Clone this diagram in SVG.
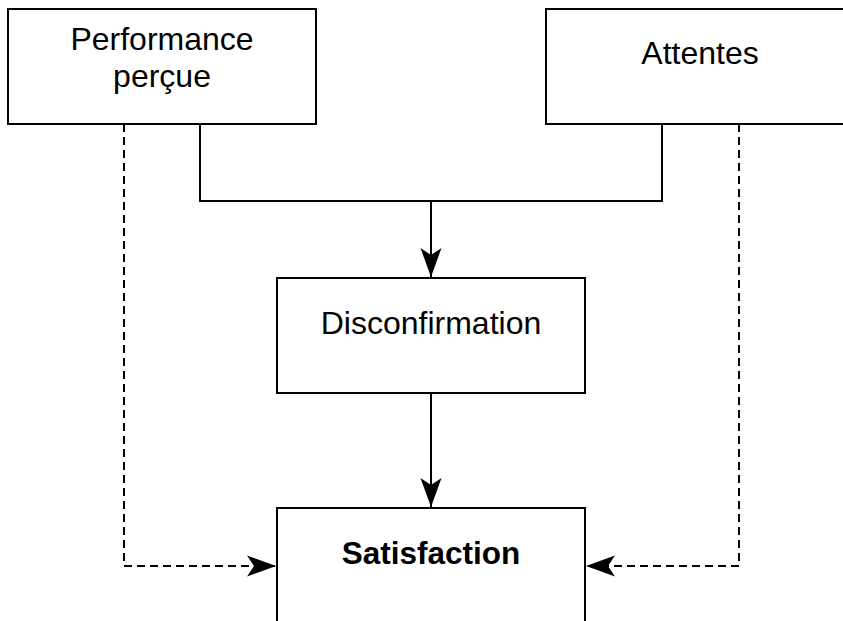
<svg xmlns="http://www.w3.org/2000/svg" width="843" height="621" viewBox="0 0 843 621">
<style>
.box{fill:#fff;stroke:#000;stroke-width:2}
.t{font-family:"Liberation Sans",Arial,sans-serif;font-size:32px;fill:#000;text-anchor:middle}
.b{font-weight:bold;font-size:31.5px}
.c{fill:none;stroke:#000;stroke-width:2}
.d{stroke-dasharray:8 5}
</style>
<defs>
<marker id="ah" markerUnits="userSpaceOnUse" markerWidth="32" markerHeight="24" viewBox="-30 -12 32 24" refX="0" refY="0" orient="auto">
<path d="M0,0 L-29,-10.5 L-22,0 L-29,10.5 Z" fill="#000"/>
</marker>
</defs>
<rect width="843" height="621" fill="#fff"/>
<g id="connectors">
<path class="c" d="M200,124 V201 H662 V124"/>
<path class="c" d="M431,201 V277" marker-end="url(#ah)"/>
<path class="c" d="M431,393 V507" marker-end="url(#ah)"/>
<path class="c d" d="M124,124 V566 H276" marker-end="url(#ah)"/>
<path class="c d" d="M739,124 V566 H586" marker-end="url(#ah)"/>
</g>
<g id="performance">
<rect class="box" x="8" y="9" width="308" height="115"/>
<text class="t" x="162" y="50">Performance</text>
<text class="t" x="162" y="87">perçue</text>
</g>
<g id="attentes">
<rect class="box" x="546" y="9" width="308" height="115"/>
<text class="t" x="700" y="64">Attentes</text>
</g>
<g id="disconfirmation">
<rect class="box" x="277" y="278" width="308" height="115"/>
<text class="t" x="431" y="334">Disconfirmation</text>
</g>
<g id="satisfaction">
<rect class="box" x="277" y="508" width="308" height="130"/>
<text class="t b" x="431" y="564">Satisfaction</text>
</g>
</svg>
